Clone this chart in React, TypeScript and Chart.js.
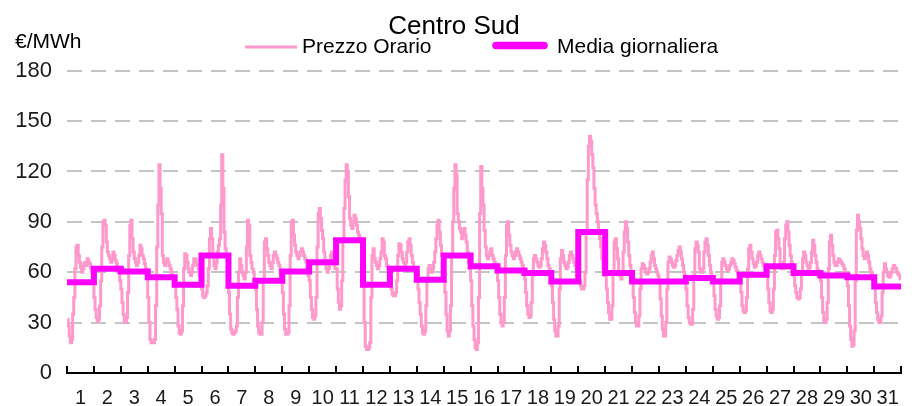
import React, { useEffect, useRef } from 'react';
import { Chart, registerables } from 'chart.js';

Chart.register(...registerables);

const chartTitle = 'Centro Sud';
const unitLabel = '€/MWh';
const seriesNames = ['Prezzo Orario', 'Media giornaliera'];
const seriesColors = ['#ff99cc', '#ff00ff'];

const dayLabels = [
  '1', '2', '3', '4', '5', '6', '7', '8', '9', '10', '11', '12', '13', '14', '15', '16',
  '17', '18', '19', '20', '21', '22', '23', '24', '25', '26', '27', '28', '29', '30', '31',
];

const yMin = 0;
const yMax = 180;
const yStep = 30;
const hoursPerDay = 24;

// Hourly prices (€/MWh), one row of 24 hours per day
const hourlyPrices: number[][] = [
  [32, 28, 22, 18, 20, 35, 45, 62, 75, 76, 70, 66, 63, 60, 62, 65, 66, 64, 68, 66, 65, 62, 60, 55],
  [45, 38, 33, 31, 32, 40, 55, 75, 90, 91, 88, 78, 72, 70, 68, 66, 68, 72, 70, 67, 65, 62, 60, 55],
  [50, 42, 35, 31, 30, 33, 48, 70, 88, 91, 80, 72, 68, 66, 64, 66, 70, 76, 74, 70, 68, 65, 62, 58],
  [45, 30, 20, 18, 18, 18, 20, 40, 75, 100, 124, 110, 95, 70, 66, 64, 66, 68, 66, 64, 62, 60, 58, 55],
  [52, 45, 38, 28, 24, 23, 25, 40, 62, 71, 70, 66, 62, 60, 58, 60, 64, 68, 68, 66, 64, 62, 58, 55],
  [50, 46, 45, 46, 48, 52, 62, 80, 86, 80, 70, 64, 62, 66, 72, 76, 80, 100, 130, 110, 84, 74, 70, 66],
  [48, 35, 26, 24, 23, 24, 25, 28, 45, 60, 68, 64, 60, 58, 56, 60, 75, 91, 88, 70, 66, 62, 60, 55],
  [50, 38, 28, 24, 23, 23, 30, 55, 78, 80, 74, 70, 66, 64, 62, 66, 70, 72, 70, 68, 66, 64, 60, 55],
  [48, 35, 26, 23, 23, 24, 40, 70, 90, 91, 82, 76, 72, 70, 68, 70, 72, 74, 72, 70, 68, 66, 62, 58],
  [55, 45, 38, 33, 32, 34, 45, 75, 95, 98, 92, 85, 80, 72, 66, 62, 60, 62, 66, 70, 72, 68, 64, 62],
  [62, 50, 42, 38, 40, 55, 80, 98, 115, 124, 120, 105, 92, 88, 86, 90, 94, 92, 88, 84, 82, 80, 78, 72],
  [55, 30, 16, 14, 14, 15, 18, 45, 70, 74, 68, 66, 64, 62, 64, 68, 72, 80, 78, 70, 68, 64, 62, 58],
  [56, 50, 47, 46, 46, 48, 55, 70, 77, 76, 72, 68, 66, 64, 66, 72, 78, 80, 76, 70, 66, 62, 60, 58],
  [56, 50, 42, 35, 28, 24, 23, 25, 40, 55, 62, 64, 62, 60, 62, 66, 72, 80, 88, 91, 84, 76, 70, 64],
  [60, 48, 35, 25, 22, 25, 40, 70, 90, 110, 124, 118, 95, 90, 86, 84, 80, 84, 86, 82, 78, 72, 66, 62],
  [55, 40, 28, 20, 15, 14, 18, 45, 95, 123, 110, 100, 85, 75, 70, 68, 70, 72, 74, 70, 68, 66, 64, 62],
  [55, 45, 35, 30, 28, 30, 45, 70, 88, 90, 82, 76, 72, 70, 68, 70, 72, 74, 72, 70, 68, 66, 64, 60],
  [56, 48, 40, 35, 33, 34, 42, 58, 68, 70, 68, 66, 64, 63, 64, 68, 74, 78, 76, 72, 68, 64, 62, 58],
  [52, 42, 32, 25, 22, 22, 28, 50, 68, 73, 70, 66, 64, 62, 63, 66, 70, 72, 70, 68, 66, 64, 62, 60],
  [60, 55, 52, 50, 50, 52, 60, 85, 115, 135, 141, 138, 130, 122, 110, 100, 95, 90, 85, 80, 75, 68, 62, 58],
  [58, 50, 42, 36, 32, 32, 40, 60, 78, 80, 74, 68, 60, 58, 56, 60, 72, 84, 90, 86, 78, 70, 64, 58],
  [55, 45, 36, 30, 28, 28, 34, 50, 62, 65, 64, 62, 60, 59, 60, 62, 66, 70, 72, 68, 64, 62, 60, 58],
  [54, 44, 34, 26, 22, 22, 30, 50, 66, 69, 68, 66, 64, 63, 64, 67, 70, 73, 75, 72, 68, 64, 60, 56],
  [50, 40, 33, 30, 29, 29, 38, 58, 74, 78, 76, 72, 62, 60, 60, 62, 72, 78, 80, 76, 70, 64, 60, 56],
  [54, 46, 38, 34, 32, 33, 40, 56, 66, 68, 66, 64, 62, 61, 62, 64, 66, 68, 67, 65, 63, 61, 60, 58],
  [56, 48, 40, 37, 36, 37, 45, 62, 74, 76, 72, 68, 65, 63, 64, 66, 70, 72, 70, 68, 66, 64, 62, 60],
  [58, 50, 42, 37, 36, 38, 50, 70, 84, 85, 80, 74, 64, 62, 62, 66, 80, 88, 90, 84, 76, 70, 66, 62],
  [58, 52, 48, 45, 44, 45, 50, 60, 68, 72, 70, 66, 64, 62, 63, 66, 72, 79, 76, 70, 66, 62, 60, 58],
  [55, 45, 36, 31, 30, 32, 42, 62, 78, 82, 76, 70, 66, 64, 64, 66, 68, 67, 66, 65, 64, 62, 60, 57],
  [52, 40, 28, 20, 16, 17, 25, 55, 85, 94, 90, 86, 80, 74, 70, 68, 70, 72, 70, 66, 62, 60, 58, 55],
  [52, 42, 36, 32, 30, 30, 34, 48, 60, 65, 62, 60, 58, 57, 58, 60, 62, 64, 63, 62, 60, 59, 58, 56],
];

// Daily average price (€/MWh)
const dailyAverages = [
  54, 62, 60.5, 57, 52.5, 70, 52, 55, 60.5, 66, 79, 52.5, 62, 55.5, 70, 63.5,
  61, 59.5, 54.5, 84, 59.5, 54.5, 54.5, 56.5, 54.5, 58.5, 63.5, 59.5, 58, 57, 51.5,
];

const FONT = "'Liberation Sans', Arial, Helvetica, sans-serif";

const dayTicksPlugin = {
  id: 'dayTicks',
  afterDraw(chart: any) {
    const xs = chart.scales.x;
    const area = chart.chartArea;
    const ctx = chart.ctx;
    ctx.save();
    ctx.strokeStyle = '#000000';
    ctx.lineWidth = 2;
    for (let d = 0; d <= dayLabels.length; d++) {
      const px = Math.round(xs.getPixelForValue(d * hoursPerDay));
      ctx.beginPath();
      ctx.moveTo(px, area.bottom);
      ctx.lineTo(px, area.bottom - 7);
      ctx.stroke();
    }
    ctx.restore();
  },
};

const headerPlugin = {
  id: 'header',
  afterDraw(chart: any) {
    const ctx = chart.ctx;
    ctx.save();
    ctx.fillStyle = '#000000';
    ctx.textBaseline = 'middle';
    ctx.textAlign = 'left';
    ctx.font = `21px ${FONT}`;
    ctx.fillText(unitLabel, 15, 42);
    const legend = [
      { x: 245, w: 52, y: 47, lw: 3, cap: 'butt', textX: 302 },
      { x: 496, w: 48, y: 45.5, lw: 7.5, cap: 'round', textX: 557 },
    ];
    legend.forEach((item, i) => {
      ctx.strokeStyle = chart.data.datasets[i].borderColor;
      ctx.lineWidth = item.lw;
      ctx.lineCap = item.cap;
      ctx.beginPath();
      ctx.moveTo(item.x, item.y);
      ctx.lineTo(item.x + item.w, item.y);
      ctx.stroke();
      ctx.fillText(chart.data.datasets[i].label, item.textX, 47);
    });
    ctx.restore();
  },
};

export default function App() {
  const canvasRef = useRef<HTMLCanvasElement | null>(null);

  useEffect(() => {
    const canvas = canvasRef.current;
    if (!canvas) return;

    const hourlyPoints = hourlyPrices.flatMap((day, d) =>
      day.map((v, h) => ({ x: d * hoursPerDay + h + 0.5, y: v }))
    );
    const dailyPoints = dailyAverages.map((v, d) => ({ x: d * hoursPerDay, y: v }));
    dailyPoints.push({
      x: dailyAverages.length * hoursPerDay,
      y: dailyAverages[dailyAverages.length - 1],
    });

    const chart = new Chart(canvas, {
      type: 'line',
      data: {
        datasets: [
          {
            label: seriesNames[0],
            data: hourlyPoints,
            xAxisID: 'x',
            yAxisID: 'y',
            borderColor: seriesColors[0],
            backgroundColor: seriesColors[0],
            borderWidth: 3,
            pointRadius: 0,
            stepped: 'middle',
            order: 1,
          },
          {
            label: seriesNames[1],
            data: dailyPoints,
            xAxisID: 'x',
            yAxisID: 'y',
            borderColor: seriesColors[1],
            backgroundColor: seriesColors[1],
            borderWidth: 6,
            pointRadius: 0,
            stepped: 'before',
            order: 0,
          },
        ],
      },
      options: {
        animation: false,
        responsive: false,
        maintainAspectRatio: false,
        devicePixelRatio: 1,
        parsing: false,
        normalized: true,
        layout: { padding: { left: 0, right: 4, top: 0, bottom: 0 } },
        plugins: {
          legend: { display: false },
          tooltip: { enabled: false },
          title: {
            display: true,
            text: chartTitle,
            color: '#000000',
            font: { family: FONT, size: 26, weight: 'normal', lineHeight: 1.2 },
            padding: { top: 11, bottom: 28.5 },
          },
        },
        scales: {
          x: {
            type: 'linear',
            display: false,
            min: 0,
            max: dayLabels.length * hoursPerDay,
          },
          x2: {
            type: 'category',
            labels: dayLabels,
            position: 'bottom',
            offset: true,
            grid: { display: false, drawTicks: false },
            border: { display: true, color: '#000000', width: 2 },
            ticks: {
              autoSkip: false,
              maxRotation: 0,
              padding: 13,
              color: '#1a1a1a',
              font: { family: FONT, size: 20 },
            },
            afterFit: (scale: any) => {
              scale.height = 33;
            },
          },
          y: {
            type: 'linear',
            min: yMin,
            max: yMax,
            position: 'left',
            ticks: {
              stepSize: yStep,
              padding: 15,
              color: '#1a1a1a',
              font: { family: FONT, size: 22 },
            },
            grid: {
              drawTicks: false,
              lineWidth: 2,
              color: (ctx: any) => (ctx.tick && ctx.tick.value === 0 ? 'rgba(0,0,0,0)' : '#c4c4c4'),
            },
            border: { display: false, dash: [15, 9] },
            afterFit: (scale: any) => {
              scale.width = 67;
            },
          },
        },
      },
      plugins: [dayTicksPlugin, headerPlugin],
    });

    return () => {
      chart.destroy();
    };
  }, []);

  return (
    <div style={{ position: 'fixed', left: 0, top: 0, width: 912, height: 406, background: '#ffffff' }}>
      <canvas ref={canvasRef} width={912} height={406} style={{ display: 'block', width: 912, height: 406 }} />
    </div>
  );
}
